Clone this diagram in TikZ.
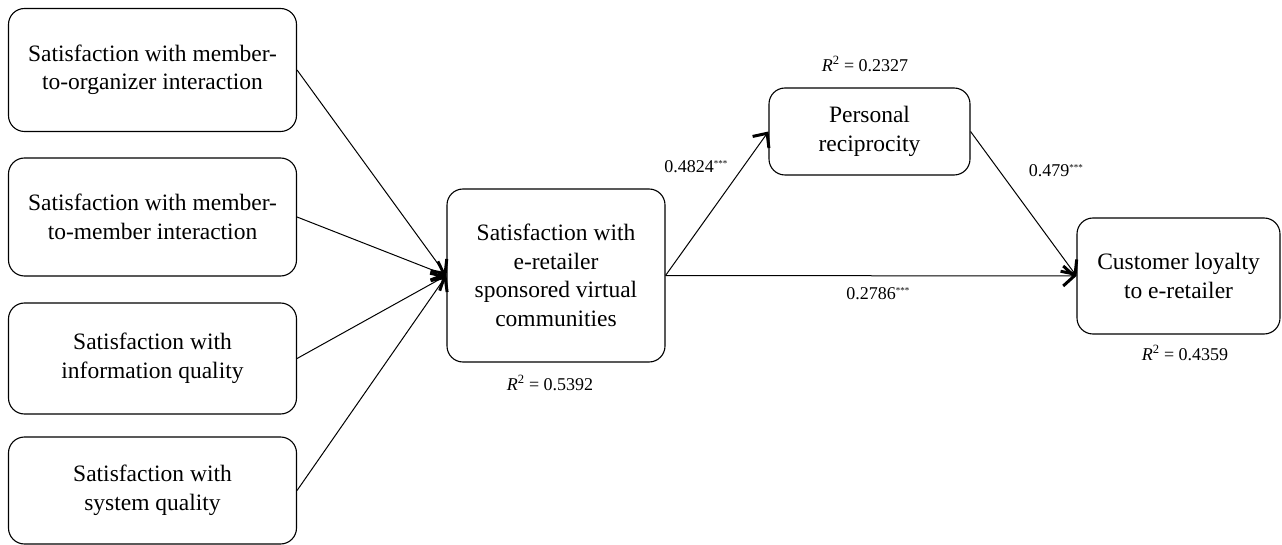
\documentclass[tikz,border=0pt]{standalone}
\usepackage{fontspec}
\setmainfont{Liberation Serif}
\usetikzlibrary{arrows.meta}
\newcommand{\sig}{\textsuperscript{\fontsize{9}{9}\selectfont ***}}
\newcommand{\rsq}[1]{\textit{R}\textsuperscript{2} = #1}
\begin{document}
\begin{tikzpicture}
[x=1pt,y=-1pt,
box/.style={draw,rounded corners=16pt,line width=1.1pt,align=center,inner sep=0pt,font=\fontsize{23.5}{28.5}\selectfont},
link/.style={draw,line width=1pt,-{Straight Barb[length=11pt,width=20pt,line width=3pt]}},
lab/.style={inner sep=0pt,font=\fontsize{18}{20}\selectfont}]
\useasboundingbox (0,0) rectangle (1282,545);
\node[box,minimum width=288pt,minimum height=123pt] (org) at (152.5,70) {Satisfaction with member-\\to-organizer interaction};
\node[box,minimum width=288pt,minimum height=118pt] (mem) at (152.5,217) {Satisfaction with member-\\to-member interaction};
\node[box,minimum width=288pt,minimum height=111pt] (info) at (152.5,358.5) {Satisfaction with\\information quality};
\node[box,minimum width=288pt,minimum height=107pt] (sys) at (152.5,490.5) {Satisfaction with\\system quality};
\node[box,minimum width=218pt,minimum height=173pt] (vc) at (556,275.5) {Satisfaction with\\e-retailer\\sponsored virtual\\communities};
\node[box,minimum width=201pt,minimum height=87pt] (recip) at (869.5,131.5) {Personal\\reciprocity};
\node[box,minimum width=203pt,minimum height=116pt] (loyal) at (1178.5,276) {Customer loyalty\\to e-retailer};
\node[lab] (r1) at (865,64) {\rsq{0.2327}};
\node[lab] (r2) at (550,383) {\rsq{0.5392}};
\node[lab] (r3) at (1185,353) {\rsq{0.4359}};
\node[lab] (c1) at (696,167) {0.4824\sig};
\node[lab] (c2) at (1056,171) {0.479\sig};
\node[lab] (c3) at (878,294) {0.2786\sig};
\draw[link] (org.east) -- (vc.west);
\draw[link] (mem.east) -- (vc.west);
\draw[link] (info.east) -- (vc.west);
\draw[link] (sys.east) -- (vc.west);
\draw[link] (vc.east) -- (recip.west);
\draw[link] (vc.east) -- (loyal.west);
\draw[link] (recip.east) -- (loyal.west);
\end{tikzpicture}
\end{document}
